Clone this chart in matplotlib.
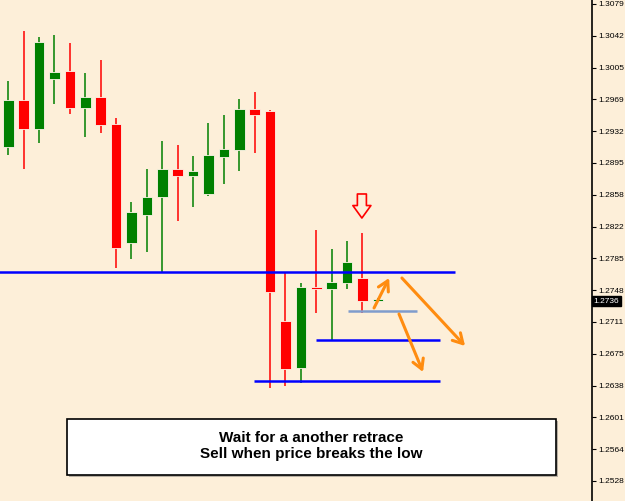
import matplotlib.pyplot as plt
import matplotlib.patches as mpatches
import numpy as np

BG = '#fdefd9'
UP = '#008000'
DOWN = '#ff0000'

# OHLC (oldest -> newest)
opens = [1.29140, 1.29683, 1.29348, 1.29925, 1.30018, 1.29590, 1.29718, 1.29406,
         1.28031, 1.28354, 1.28562, 1.28886, 1.28805, 1.28597, 1.29024, 1.29105,
         1.29579, 1.29556, 1.27129, 1.26586, 1.27522, 1.27499, 1.27568, 1.27626, 1.27361]
highs = [1.29902, 1.30480, 1.30411, 1.30434, 1.30341, 1.29995, 1.30145, 1.29475,
         1.28504, 1.28886, 1.29209, 1.29163, 1.29036, 1.29417, 1.29510, 1.29694,
         1.29775, 1.29567, 1.27696, 1.27568, 1.28181, 1.27961, 1.28054, 1.28146, 1.27395]
lows = [1.29047, 1.28886, 1.29186, 1.29637, 1.29521, 1.29255, 1.29302, 1.27742,
        1.27846, 1.27927, 1.27684, 1.28285, 1.28447, 1.28574, 1.28712, 1.28863,
        1.29071, 1.26355, 1.26378, 1.26413, 1.27222, 1.26910, 1.27499, 1.27222, 1.27349]
closes = [1.29683, 1.29348, 1.30353, 1.30006, 1.29590, 1.29718, 1.29394, 1.27973,
          1.28389, 1.28562, 1.28886, 1.28805, 1.28863, 1.29047, 1.29117, 1.29579,
          1.29510, 1.27464, 1.26575, 1.27522, 1.27499, 1.27580, 1.27811, 1.27361, 1.27384]

last_price = 1.2736
tick_prices = [1.25281, 1.25648, 1.26016, 1.26383, 1.26751, 1.27118, 1.27485, 1.27853,
               1.28220, 1.28587, 1.28955, 1.29322, 1.29690, 1.30057, 1.30424, 1.30792]
tick_labels = ['1.2528', '1.2564', '1.2601', '1.2638', '1.2675', '1.2711', '1.2748', '1.2785',
               '1.2822', '1.2858', '1.2895', '1.2932', '1.2969', '1.3005', '1.3042', '1.3079']

# support / breakout lines: (price, x from, x to, colour)
levels = [(1.27696, -1, 29.0, '#0000ff'),
          (1.26910, 19.98, 28.03, '#0000ff'),
          (1.26436, 15.95, 28.03, '#0000ff'),
          (1.27245, 22.06, 26.54, '#7f9ccc')]

# orange arrows: (x0, y0, x1, y1)
arrows = [(23.75, 1.27280, 24.73, 1.27626),
          (25.56, 1.27626, 29.66, 1.26841),
          (25.37, 1.27210, 26.93, 1.26540)]

note = 'Wait for a another retrace\nSell when price breaks the low'

fig = plt.figure(figsize=(6.25, 5.01), dpi=100, facecolor=BG)
ax = fig.add_axes([0, 0, 592 / 625, 1], facecolor=BG)

x = np.arange(len(opens))
o = np.array(opens)
c = np.array(closes)
cols = [UP if cc >= oo else DOWN for oo, cc in zip(o, c)]

ax.vlines(x, lows, highs, colors=cols, lw=1.1, zorder=2)
bottom = np.minimum(o, c)
height = np.maximum(np.abs(c - o), 0.00018)
ax.bar(x, height, bottom=bottom, width=0.7, color=cols, edgecolor='#fff6ea',
       linewidth=0.6, zorder=3)

for price, x0, x1, col in levels:
    ax.hlines(price, x0, x1, colors=col, lw=1.8, zorder=4)

for x0, y0, x1, y1 in arrows:
    ax.annotate('', xy=(x1, y1), xytext=(x0, y0),
                arrowprops=dict(arrowstyle='->,head_length=0.7,head_width=0.4',
                                color='#ff8c10', lw=2.2, shrinkA=0, shrinkB=0),
                zorder=5)

# hollow down arrow above the signal candle
ax.annotate('', xy=(22.96, 1.28319), xytext=(22.96, 1.28597),
            arrowprops=dict(arrowstyle='simple,head_length=0.9,head_width=1.3,tail_width=0.65',
                            fc=BG, ec='#ff0000', lw=1.2, shrinkA=0, shrinkB=0),
            zorder=5)

ax.set_xlim((0 - 8.3) / 15.4, (592 - 8.3) / 15.4)
ax.set_ylim(1.30792 - 497 / 8655, 1.30792 + 4 / 8655)

ax.yaxis.tick_right()
ax.set_yticks(tick_prices)
ax.set_yticklabels(tick_labels, family='Liberation Sans')
ax.tick_params(axis='y', length=3, width=0.8, pad=1.5, labelsize=6, colors='black')
ax.set_xticks([])
for s in ['top', 'left', 'bottom']:
    ax.spines[s].set_visible(False)
ax.spines['right'].set_linewidth(1.2)

# current price tag
ax.text(1.003, last_price, '%.4f' % last_price, transform=ax.get_yaxis_transform(),
        ha='left', va='center', fontsize=6, family='Liberation Sans', color='white',
        zorder=10, bbox=dict(boxstyle='square,pad=0.2', fc='black', ec='black'), clip_on=False)

# note box
shadow = mpatches.Rectangle((69 / 625, 24 / 501), 489 / 625, 56 / 501,
                            transform=fig.transFigure, fc='#b8b0a4', ec='none', zorder=1)
box = mpatches.Rectangle((67 / 625, 26 / 501), 489 / 625, 56 / 501,
                         transform=fig.transFigure, fc='white', ec='black', lw=1.2, zorder=2)
fig.patches.extend([shadow, box])
fig.text(311.5 / 625, 55 / 501, note, ha='center', va='center', fontsize=11,
         fontweight='bold', family='Liberation Sans', linespacing=1.25, zorder=3)

fig.savefig('out.png', dpi=100, facecolor=BG)
